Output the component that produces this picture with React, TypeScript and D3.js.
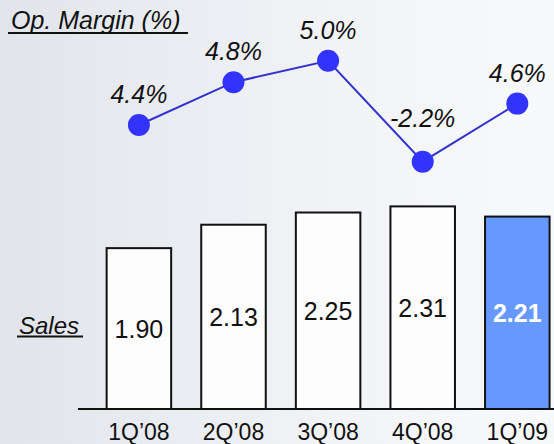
import React from "react";
import * as d3 from "d3";

const categories = ["1Q’08", "2Q’08", "3Q’08", "4Q’08", "1Q’09"];
const sales = [1.9, 2.13, 2.25, 2.31, 2.21];
const salesLabels = ["1.90", "2.13", "2.25", "2.31", "2.21"];
const margins = [4.4, 4.8, 5.0, -2.2, 4.6];
const marginLabels = ["4.4%", "4.8%", "5.0%", "-2.2%", "4.6%"];

const W = 554;
const H = 444;
const FONT = "Liberation Sans, Arial, Helvetica, sans-serif";

export default function App() {
  const x = d3
    .scaleBand<string>()
    .domain(categories)
    .range([91.5, 564.7])
    .paddingInner(0.318)
    .paddingOuter(0.16);

  const baseY = 409;
  const y = d3.scaleLinear().domain([0.32, 2.31]).range([baseY, 206.4]);

  // broken axis for the margin line
  const ym = d3.scaleLinear().domain([-3, 4.2, 5.2]).range([163.6, 146.4, 39.4]);

  const cx = (c: string) => (x(c) as number) + x.bandwidth() / 2;

  const line = d3
    .line<number>()
    .x((_, i) => cx(categories[i]))
    .y((d) => ym(d));

  const last = categories.length - 1;

  return (
    <svg
      width={W}
      height={H}
      style={{ position: "absolute", left: 0, top: 0 }}
      fontFamily={FONT}
    >
      <defs>
        <linearGradient id="bg" x1="0" y1="0" x2="1" y2="0">
          <stop offset="0" stopColor="#e1e5eb" />
          <stop offset="0.6" stopColor="#f1f3f6" />
          <stop offset="1" stopColor="#f8f9fb" />
        </linearGradient>
      </defs>
      <rect x={0} y={0} width={W} height={H} fill="url(#bg)" />

      {/* title */}
      <text x={11} y={29} fontSize={25} fontStyle="italic" fill="#111">
        Op. Margin (%)
      </text>
      <line x1={8} x2={188} y1={33} y2={33} stroke="#111" strokeWidth={2} />

      {/* Sales label */}
      <text x={19} y={334} fontSize={24} fontStyle="italic" fill="#111">
        Sales
      </text>
      <line x1={17} x2={83} y1={336.5} y2={336.5} stroke="#111" strokeWidth={2} />

      {/* bars */}
      {sales.map((v, i) => {
        const c = categories[i];
        const top = y(v);
        const isLast = i === last;
        return (
          <g key={c}>
            <rect
              x={x(c)}
              y={top}
              width={x.bandwidth()}
              height={baseY - top}
              fill={isLast ? "#6699ff" : "#fdfdfd"}
              stroke="#111"
              strokeWidth={2}
            />
            <text
              x={cx(c)}
              y={(top + baseY) / 2 + 9}
              textAnchor="middle"
              fontSize={25}
              fontWeight={isLast ? "bold" : "normal"}
              fill={isLast ? "#ffffff" : "#111"}
            >
              {salesLabels[i]}
            </text>
            <text
              x={cx(c)}
              y={440}
              textAnchor="middle"
              fontSize={23}
              fill="#111"
            >
              {c}
            </text>
          </g>
        );
      })}

      {/* baseline */}
      <line x1={78} x2={W} y1={baseY} y2={baseY} stroke="#111" strokeWidth={2} />

      {/* margin line */}
      <path d={line(margins) || ""} fill="none" stroke="#3333cc" strokeWidth={2} />
      {margins.map((v, i) => (
        <g key={"m" + i}>
          <circle cx={cx(categories[i])} cy={ym(v)} r={11} fill="#3333ff" />
          <text
            x={cx(categories[i])}
            y={ym(v) - (v < 0 ? 35 : 22)}
            textAnchor="middle"
            fontSize={25}
            fontStyle="italic"
            fill="#111"
          >
            {marginLabels[i]}
          </text>
        </g>
      ))}
    </svg>
  );
}
